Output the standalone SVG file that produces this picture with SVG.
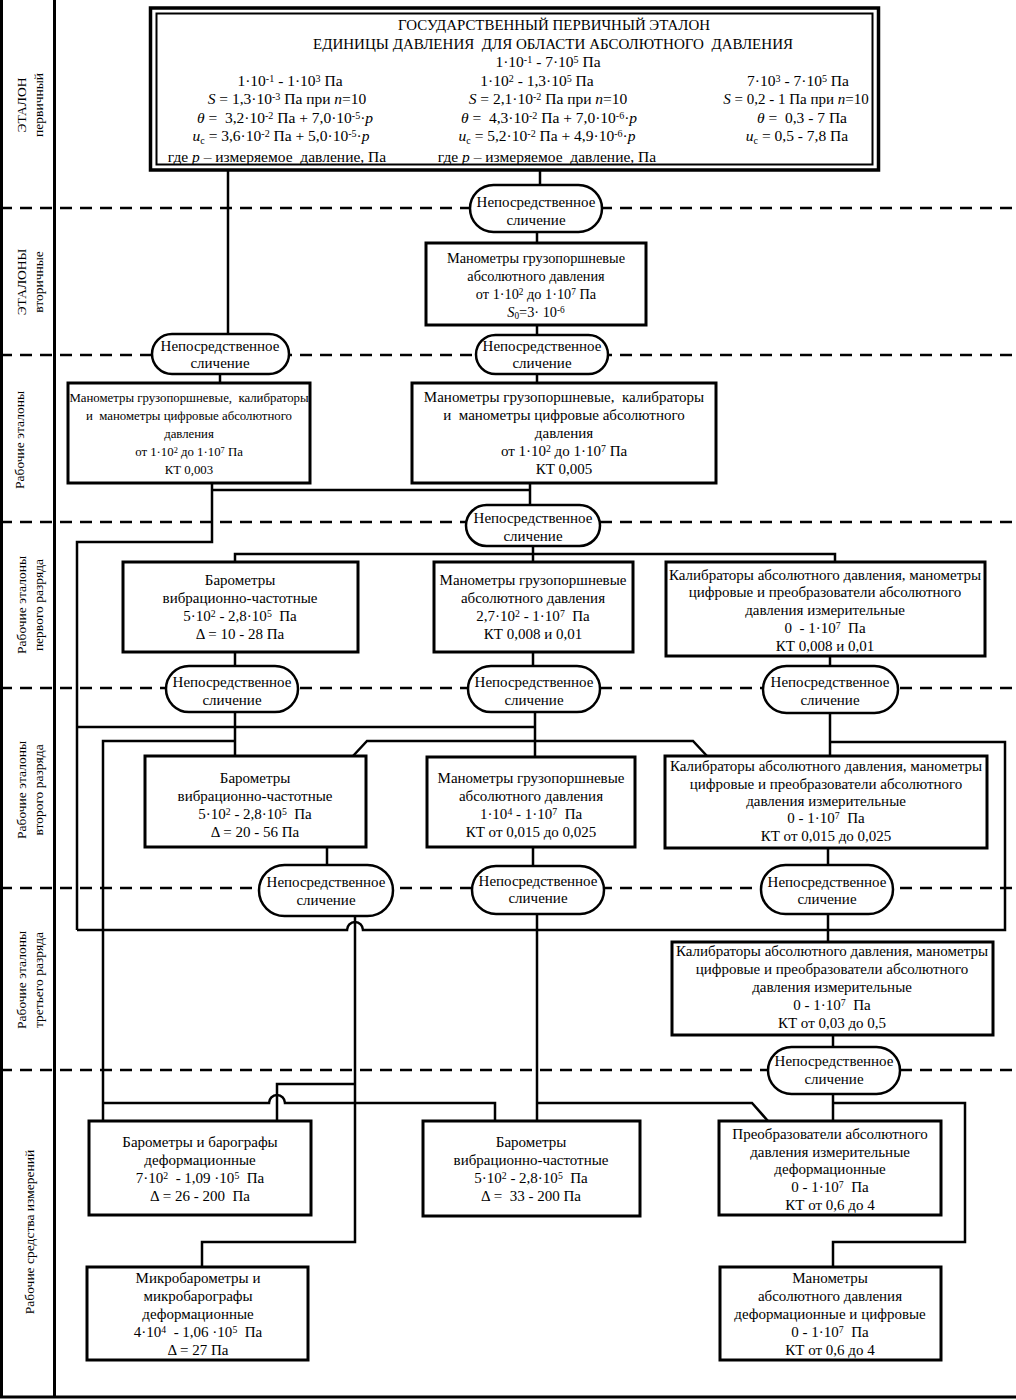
<svg xmlns="http://www.w3.org/2000/svg" width="1016" height="1400" viewBox="0 0 1016 1400">
<style>
text{font-family:"Liberation Serif","Times New Roman",serif;font-size:15px;fill:#000}
.c{text-anchor:middle}
.t{font-size:15.5px}
.lab{font-size:13.5px}
.sm{font-size:12.8px}
.s{font-size:0.65em;baseline-shift:0.4em}
.b{font-size:0.65em;baseline-shift:-0.25em}
.i{font-style:italic}
.box{fill:#fff;stroke:#000;stroke-width:3}
.ov{fill:#fff;stroke:#000;stroke-width:2.5}
.ln{fill:none;stroke:#000;stroke-width:2.5}
.dash{fill:none;stroke:#000;stroke-width:2.5;stroke-dasharray:12 8}
.fr{fill:none;stroke:#000;stroke-width:3}
</style>
<rect x="0" y="0" width="1016" height="1400" fill="#fff"/>
<g id="frame">
<path class="fr" d="M1.5,0 V1397 M54.5,0 V1397 M0,1397 H1016"/>
<path class="dash" d="M0,208 H1016 M0,355 H1016 M0,522 H1016 M0,688 H1016 M0,888 H1016 M0,1070 H1016"/>
</g>
<g id="labels">
<text class="c lab" transform="translate(26,105) rotate(-90)">ЭТАЛОН</text>
<text class="c lab" transform="translate(43,105) rotate(-90)">первичный</text>
<text class="c lab" transform="translate(26,282) rotate(-90)">ЭТАЛОНЫ</text>
<text class="c lab" transform="translate(43,282) rotate(-90)">вторичные</text>
<text class="c lab" transform="translate(24,440) rotate(-90)">Рабочие эталоны</text>
<text class="c lab" transform="translate(26,605) rotate(-90)">Рабочие эталоны</text>
<text class="c lab" transform="translate(43,605) rotate(-90)">первого разряда</text>
<text class="c lab" transform="translate(26,790) rotate(-90)">Рабочие эталоны</text>
<text class="c lab" transform="translate(43,790) rotate(-90)">второго разряда</text>
<text class="c lab" transform="translate(26,980) rotate(-90)">Рабочие эталоны</text>
<text class="c lab" transform="translate(43,980) rotate(-90)">третьего разряда</text>
<text class="c lab" transform="translate(34,1232) rotate(-90)">Рабочие средства измерений</text>
</g>
<g id="connectors">
<path class="ln" d="M540,171 V186"/>
<path class="ln" d="M228,171 V335"/>
<path class="ln" d="M537,232 V243 M537,325 V335 M537,374 V383"/>
<path class="ln" d="M220,374 V383"/>
<path class="ln" d="M212,483 V542 H77 V930"/>
<path class="ln" d="M212,490 H530 M530,483 V505"/>
<path class="ln" d="M533,546 V554 M235,562 V554 H835 V562 M533,554 V562"/>
<path class="ln" d="M235,652 V666 M533,652 V666 M830,656 V666"/>
<path class="ln" d="M235,712 V756 M77,727 H535 M535,712 V757"/>
<path class="ln" d="M103,1121 V741 H235"/>
<path class="ln" d="M830,713 V756 M830,742 H1005 V930 H363 A8,8 0 0 0 347,930 H77"/>
<path class="ln" d="M353,756 L367,741 H693 L707,756"/>
<path class="ln" d="M327,847 V865 M533,847 V866 M828,848 V865"/>
<path class="ln" d="M355,916 V1242 H202 V1267"/>
<path class="ln" d="M355,1084 H277 V1121"/>
<path class="ln" d="M103,1103 H269 A8,8 0 0 1 285,1103 H495 V1121"/>
<path class="ln" d="M537,914 V1121 M537,1103 H752 L768,1121"/>
<path class="ln" d="M828,914 V942"/>
<path class="ln" d="M833,1035 V1047"/>
<path class="ln" d="M833,1094 V1121 M833,1103 H965 V1242 H833 V1267"/>
</g>
<g id="primary">
<rect x="150.5" y="8" width="728" height="162" fill="#fff" stroke="#000" stroke-width="3.5"/>
<rect x="156.5" y="13.5" width="716" height="151" fill="none" stroke="#000" stroke-width="2"/>
<text class="c" x="554" y="30" textLength="312" lengthAdjust="spacingAndGlyphs">ГОСУДАРСТВЕННЫЙ ПЕРВИЧНЫЙ ЭТАЛОН</text>
<text class="c" x="553" y="49" textLength="480" lengthAdjust="spacingAndGlyphs" xml:space="preserve">ЕДИНИЦЫ ДАВЛЕНИЯ  ДЛЯ ОБЛАСТИ АБСОЛЮТНОГО  ДАВЛЕНИЯ</text>
<text class="c t" x="548" y="67">1·10<tspan class="s">-1</tspan> - 7·10<tspan class="s">5</tspan> Па</text>
<text class="c t" x="290" y="86">1·10<tspan class="s">-1</tspan> - 1·10<tspan class="s">3</tspan> Па</text>
<text class="c t" x="537" y="86">1·10<tspan class="s">2</tspan> - 1,3·10<tspan class="s">5</tspan> Па</text>
<text class="c t" x="798" y="86">7·10<tspan class="s">3</tspan> - 7·10<tspan class="s">5</tspan> Па</text>
<text class="c t" x="287" y="104"><tspan class="i">S</tspan> = 1,3·10<tspan class="s">-3</tspan> Па при <tspan class="i">n</tspan>=10</text>
<text class="c t" x="548" y="104"><tspan class="i">S</tspan> = 2,1·10<tspan class="s">-2</tspan> Па при <tspan class="i">n</tspan>=10</text>
<text class="c" x="796" y="104"><tspan class="i">S</tspan> = 0,2 - 1 Па при <tspan class="i">n</tspan>=10</text>
<text class="c t" x="285" y="123" xml:space="preserve"><tspan class="i">θ</tspan> =  3,2·10<tspan class="s">-2</tspan> Па + 7,0·10<tspan class="s">-5</tspan>·<tspan class="i">p</tspan></text>
<text class="c t" x="549" y="123" xml:space="preserve"><tspan class="i">θ</tspan> =  4,3·10<tspan class="s">-2</tspan> Па + 7,0·10<tspan class="s">-6</tspan>·<tspan class="i">p</tspan></text>
<text class="c t" x="802" y="123" xml:space="preserve"><tspan class="i">θ</tspan> =  0,3 - 7 Па</text>
<text class="c t" x="281" y="141"><tspan class="i">u</tspan><tspan class="b">c</tspan> = 3,6·10<tspan class="s">-2</tspan> Па + 5,0·10<tspan class="s">-5</tspan>·<tspan class="i">p</tspan></text>
<text class="c t" x="547" y="141"><tspan class="i">u</tspan><tspan class="b">c</tspan> = 5,2·10<tspan class="s">-2</tspan> Па + 4,9·10<tspan class="s">-6</tspan>·<tspan class="i">p</tspan></text>
<text class="c t" x="797" y="141"><tspan class="i">u</tspan><tspan class="b">c</tspan> = 0,5 - 7,8 Па</text>
<text class="c t" x="277" y="162" xml:space="preserve">где <tspan class="i">p</tspan> – измеряемое  давление, Па</text>
<text class="c t" x="547" y="162" xml:space="preserve">где <tspan class="i">p</tspan> – измеряемое  давление, Па</text>
</g>
<g id="cmp1"><rect class="ov" x="470" y="185" width="132" height="47" rx="23.5"/><text class="c" x="536" y="207">Непосредственное</text><text class="c" x="536" y="225">сличение</text></g>
<g id="secondary"><rect class="box" x="426" y="243" width="220" height="82"/>
<text class="c" x="536" y="263" style="font-size:14.3px">Манометры грузопоршневые</text>
<text class="c" x="536" y="281" style="font-size:14.3px">абсолютного давления</text>
<text class="c" x="536" y="299" style="font-size:14.3px">от 1·10<tspan class="s">2</tspan> до 1·10<tspan class="s">7</tspan> Па</text>
<text class="c" x="536" y="317" style="font-size:14.3px"><tspan class="i">S</tspan><tspan class="b">0</tspan>=3· 10<tspan class="s">-6</tspan></text></g>
<g id="cmp2"><rect class="ov" x="152" y="334" width="137" height="40" rx="20"/><text class="c" x="220" y="351">Непосредственное</text><text class="c" x="220" y="368">сличение</text></g>
<g id="cmp3"><rect class="ov" x="476" y="335" width="132" height="39" rx="19.5"/><text class="c" x="542" y="351">Непосредственное</text><text class="c" x="542" y="368">сличение</text></g>
<g id="work1"><rect class="box" x="68" y="383" width="242" height="100"/>
<text class="c sm" x="189" y="402" xml:space="preserve">Манометры грузопоршневые,  калибраторы</text>
<text class="c sm" x="189" y="420" xml:space="preserve">и  манометры цифровые абсолютного</text>
<text class="c sm" x="189" y="438">давления</text>
<text class="c sm" x="189" y="456">от 1·10<tspan class="s">2</tspan> до 1·10<tspan class="s">7</tspan> Па</text>
<text class="c sm" x="189" y="474">КТ 0,003</text></g>
<g id="work2"><rect class="box" x="412" y="383" width="304" height="100"/>
<text class="c" x="564" y="402" xml:space="preserve">Манометры грузопоршневые,  калибраторы</text>
<text class="c" x="564" y="420" xml:space="preserve">и  манометры цифровые абсолютного</text>
<text class="c" x="564" y="438">давления</text>
<text class="c" x="564" y="456">от 1·10<tspan class="s">2</tspan> до 1·10<tspan class="s">7</tspan> Па</text>
<text class="c" x="564" y="474">КТ 0,005</text></g>
<g id="cmp4"><rect class="ov" x="466" y="505" width="134" height="41" rx="20.5"/><text class="c" x="533" y="523">Непосредственное</text><text class="c" x="533" y="541">сличение</text></g>
<g id="first1"><rect class="box" x="123" y="562" width="235" height="90"/>
<text class="c" x="240" y="585">Барометры</text>
<text class="c" x="240" y="603">вибрационно-частотные</text>
<text class="c" x="240" y="621" xml:space="preserve">5·10<tspan class="s">2</tspan> - 2,8·10<tspan class="s">5</tspan>  Па</text>
<text class="c" x="240" y="639">Δ = 10 - 28 Па</text></g>
<g id="first2"><rect class="box" x="434" y="562" width="199" height="90"/>
<text class="c" x="533" y="585">Манометры грузопоршневые</text>
<text class="c" x="533" y="603">абсолютного давления</text>
<text class="c" x="533" y="621" xml:space="preserve">2,7·10<tspan class="s">2</tspan> - 1·10<tspan class="s">7</tspan>  Па</text>
<text class="c" x="533" y="639">КТ 0,008 и 0,01</text></g>
<g id="first3"><rect class="box" x="666" y="562" width="319" height="94"/>
<text class="c" x="825" y="580">Калибраторы абсолютного давления, манометры</text>
<text class="c" x="825" y="597">цифровые и преобразователи абсолютного</text>
<text class="c" x="825" y="615">давления измерительные</text>
<text class="c" x="825" y="633" xml:space="preserve">0  - 1·10<tspan class="s">7</tspan>  Па</text>
<text class="c" x="825" y="651">КТ 0,008 и 0,01</text></g>
<g id="cmp5"><rect class="ov" x="166" y="666" width="132" height="46" rx="23"/><text class="c" x="232" y="687">Непосредственное</text><text class="c" x="232" y="705">сличение</text></g>
<g id="cmp6"><rect class="ov" x="468" y="666" width="132" height="46" rx="23"/><text class="c" x="534" y="687">Непосредственное</text><text class="c" x="534" y="705">сличение</text></g>
<g id="cmp7"><rect class="ov" x="763" y="666" width="135" height="47" rx="23.5"/><text class="c" x="830" y="687">Непосредственное</text><text class="c" x="830" y="705">сличение</text></g>
<g id="second1"><rect class="box" x="145" y="756" width="221" height="91"/>
<text class="c" x="255" y="783">Барометры</text>
<text class="c" x="255" y="801">вибрационно-частотные</text>
<text class="c" x="255" y="819" xml:space="preserve">5·10<tspan class="s">2</tspan> - 2,8·10<tspan class="s">5</tspan>  Па</text>
<text class="c" x="255" y="837">Δ = 20 - 56 Па</text></g>
<g id="second2"><rect class="box" x="427" y="757" width="208" height="90"/>
<text class="c" x="531" y="783">Манометры грузопоршневые</text>
<text class="c" x="531" y="801">абсолютного давления</text>
<text class="c" x="531" y="819" xml:space="preserve">1·10<tspan class="s">4</tspan> - 1·10<tspan class="s">7</tspan>  Па</text>
<text class="c" x="531" y="837">КТ от 0,015 до 0,025</text></g>
<g id="second3"><rect class="box" x="665" y="756" width="322" height="92"/>
<text class="c" x="826" y="771">Калибраторы абсолютного давления, манометры</text>
<text class="c" x="826" y="789">цифровые и преобразователи абсолютного</text>
<text class="c" x="826" y="806">давления измерительные</text>
<text class="c" x="826" y="823" xml:space="preserve">0 - 1·10<tspan class="s">7</tspan>  Па</text>
<text class="c" x="826" y="841">КТ от 0,015 до 0,025</text></g>
<g id="cmp8"><rect class="ov" x="259" y="865" width="134" height="51" rx="25.5"/><text class="c" x="326" y="887">Непосредственное</text><text class="c" x="326" y="905">сличение</text></g>
<g id="cmp9"><rect class="ov" x="472" y="866" width="132" height="48" rx="24"/><text class="c" x="538" y="886">Непосредственное</text><text class="c" x="538" y="903">сличение</text></g>
<g id="cmp10"><rect class="ov" x="761" y="865" width="132" height="49" rx="24.5"/><text class="c" x="827" y="887">Непосредственное</text><text class="c" x="827" y="904">сличение</text></g>
<g id="third"><rect class="box" x="672" y="942" width="321" height="93"/>
<text class="c" x="832" y="956">Калибраторы абсолютного давления, манометры</text>
<text class="c" x="832" y="974">цифровые и преобразователи абсолютного</text>
<text class="c" x="832" y="992">давления измерительные</text>
<text class="c" x="832" y="1010" xml:space="preserve">0 - 1·10<tspan class="s">7</tspan>  Па</text>
<text class="c" x="832" y="1028">КТ от 0,03 до 0,5</text></g>
<g id="cmp11"><rect class="ov" x="768" y="1047" width="132" height="47" rx="23.5"/><text class="c" x="834" y="1066">Непосредственное</text><text class="c" x="834" y="1084">сличение</text></g>
<g id="means1"><rect class="box" x="89" y="1121" width="222" height="94"/>
<text class="c" x="200" y="1147">Барометры и барографы</text>
<text class="c" x="200" y="1165">деформационные</text>
<text class="c" x="200" y="1183" xml:space="preserve">7·10<tspan class="s">2</tspan>  - 1,09 ·10<tspan class="s">5</tspan>  Па</text>
<text class="c" x="200" y="1201" xml:space="preserve">Δ = 26 - 200  Па</text></g>
<g id="means2"><rect class="box" x="423" y="1121" width="217" height="95"/>
<text class="c" x="531" y="1147">Барометры</text>
<text class="c" x="531" y="1165">вибрационно-частотные</text>
<text class="c" x="531" y="1183" xml:space="preserve">5·10<tspan class="s">2</tspan> - 2,8·10<tspan class="s">5</tspan>  Па</text>
<text class="c" x="531" y="1201" xml:space="preserve">Δ =  33 - 200 Па</text></g>
<g id="means3"><rect class="box" x="719" y="1121" width="222" height="94"/>
<text class="c" x="830" y="1139">Преобразователи абсолютного</text>
<text class="c" x="830" y="1157">давления измерительные</text>
<text class="c" x="830" y="1174">деформационные</text>
<text class="c" x="830" y="1192" xml:space="preserve">0 - 1·10<tspan class="s">7</tspan>  Па</text>
<text class="c" x="830" y="1210">КТ от 0,6 до 4</text></g>
<g id="means4"><rect class="box" x="87" y="1267" width="221" height="93"/>
<text class="c" x="198" y="1283">Микробарометры и</text>
<text class="c" x="198" y="1301">микробарографы</text>
<text class="c" x="198" y="1319">деформационные</text>
<text class="c" x="198" y="1337" xml:space="preserve">4·10<tspan class="s">4</tspan>  - 1,06 ·10<tspan class="s">5</tspan>  Па</text>
<text class="c" x="198" y="1355">Δ = 27 Па</text></g>
<g id="means5"><rect class="box" x="720" y="1267" width="221" height="93"/>
<text class="c" x="830" y="1283">Манометры</text>
<text class="c" x="830" y="1301">абсолютного давления</text>
<text class="c" x="830" y="1319">деформационные и цифровые</text>
<text class="c" x="830" y="1337" xml:space="preserve">0 - 1·10<tspan class="s">7</tspan>  Па</text>
<text class="c" x="830" y="1355">КТ от 0,6 до 4</text></g>
</svg>
